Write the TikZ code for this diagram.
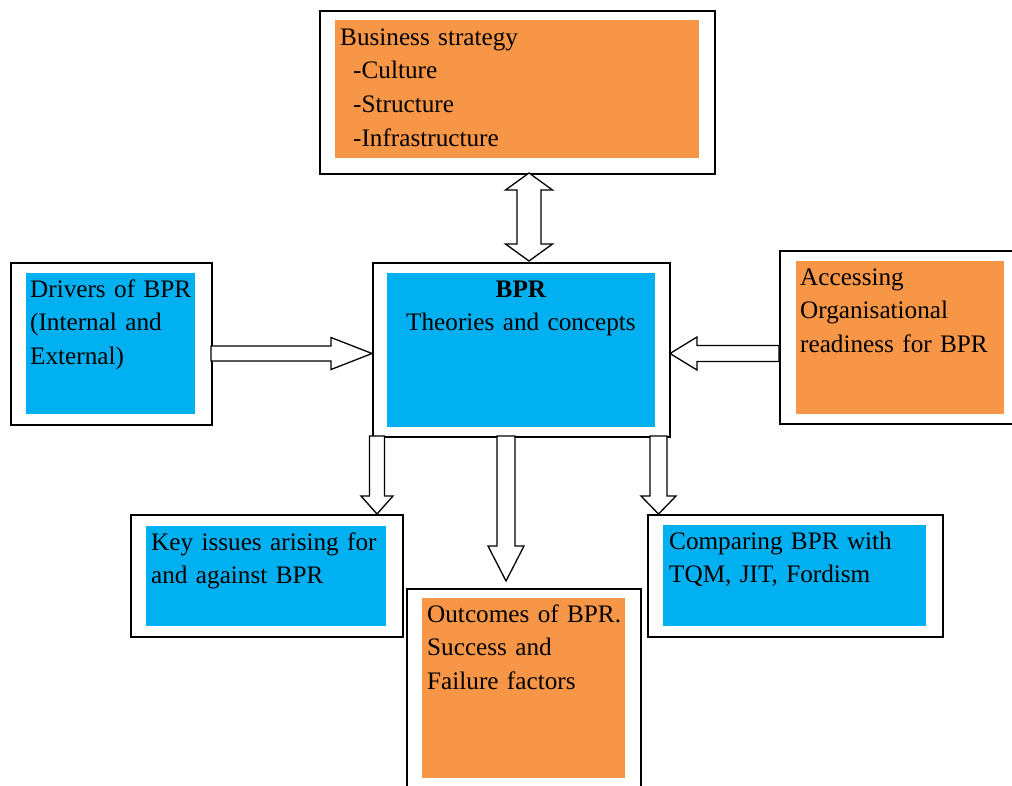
\documentclass[tikz,border=0pt]{standalone}
\usepackage{fontspec}
\setmainfont{Liberation Serif}
\usetikzlibrary{calc}
\definecolor{bpblue}{HTML}{00B0F0}
\definecolor{bporange}{HTML}{F79646}
\tikzset{
  frame/.style={draw=black, line width=2.3pt, fill=white, inner sep=0pt, anchor=north west},
  panel/.style={draw=none, inner sep=0pt, anchor=north west},
  txt/.style={anchor=base west, inner sep=0pt, align=left, text width=300pt},
  barrow/.style={draw=black, line width=1.3pt, fill=white, line join=miter},
  every node/.style={font=\fontsize{25.2pt}{33.7pt}\selectfont, text=black}
}
\newcommand\blockarrow[5]{%
  \coordinate (bahd) at ($(#2)!#5!(#1)$);
  \draw[barrow] ($(#1)!#3!90:(#2)$) -- ($(bahd)!#3!90:(#2)$) -- ($(bahd)!#4!90:(#2)$) -- (#2)
    -- ($(bahd)!#4!-90:(#2)$) -- ($(bahd)!#3!-90:(#2)$) -- ($(#1)!#3!-90:(#2)$) -- cycle;}
\newcommand\dblarrow[5]{%
  \coordinate (dah) at ($(#1)!#5!(#2)$);
  \coordinate (dak) at ($(#2)!#5!(#1)$);
  \draw[barrow] (#1) -- ($(dah)!#4!90:(#2)$) -- ($(dah)!#3!90:(#2)$) -- ($(dak)!#3!-90:(#1)$)
    -- ($(dak)!#4!-90:(#1)$) -- (#2) -- ($(dak)!#4!90:(#1)$) -- ($(dak)!#3!90:(#1)$)
    -- ($(dah)!#3!-90:(#2)$) -- ($(dah)!#4!-90:(#2)$) -- cycle;}
\begin{document}
\begin{tikzpicture}[x=1pt,y=-1pt]
\useasboundingbox (0,0) rectangle (1012,785);
\clip (0,0) rectangle (1012,785);
\fill[white] (0,0) rectangle (1012,785);

% Business strategy
\node[frame, minimum width=395pt, minimum height=163pt] (bsO) at (319,10) {};
\node[panel, fill=bporange, minimum width=364pt, minimum height=138pt] (bsI) at (335,20) {};
\node[txt] (bsT) at (340,45) {Business strategy\\\hspace*{13pt}-Culture\\\hspace*{13pt}-Structure\\\hspace*{13pt}-Infrastructure};

% BPR centre
\node[frame, minimum width=297pt, minimum height=174pt] (ctrO) at (372,262) {};
\node[panel, fill=bpblue, minimum width=268pt, minimum height=154pt] (ctrI) at (387,273) {};
\node[anchor=base, inner sep=0pt, align=center, text width=268pt] (ctrT) at (521,297) {\textbf{BPR}\\Theories and concepts};

% Drivers
\node[frame, minimum width=201pt, minimum height=162pt] (drvO) at (10,262) {};
\node[panel, fill=bpblue, minimum width=169pt, minimum height=141pt] (drvI) at (26,273) {};
\node[txt] (drvT) at (30,297) {Drivers of BPR\\(Internal and\\External)};

% Readiness
\node[frame, minimum width=246pt, minimum height=173pt] (rdyO) at (779,250) {};
\node[panel, fill=bporange, minimum width=208pt, minimum height=153pt] (rdyI) at (796,261) {};
\node[txt] (rdyT) at (800,285) {Accessing\\Organisational\\readiness for BPR};

% Key issues
\node[frame, minimum width=272pt, minimum height=122pt] (keyO) at (130,514) {};
\node[panel, fill=bpblue, minimum width=240pt, minimum height=100pt] (keyI) at (146,526) {};
\node[txt] (keyT) at (151,550) {Key issues arising for\\and against BPR};

% Outcomes
\node[frame, minimum width=234pt, minimum height=212pt] (outO) at (406,588) {};
\node[panel, fill=bporange, minimum width=203pt, minimum height=180pt] (outI) at (422,598) {};
\node[txt] (outT) at (427,622) {Outcomes of BPR.\\Success and\\Failure factors};

% Comparing
\node[frame, minimum width=295pt, minimum height=122pt] (cmpO) at (647,514) {};
\node[panel, fill=bpblue, minimum width=263pt, minimum height=101pt] (cmpI) at (663,525) {};
\node[txt] (cmpT) at (669,549) {Comparing BPR with\\TQM, JIT, Fordism};

% arrow end points on the box borders
\coordinate (dTop) at (529,173);
\coordinate (dBot) at (529,261);
\coordinate (aDs) at (211,353.5);
\coordinate (aDt) at (372,353.5);
\coordinate (aRs) at (779,353.5);
\coordinate (aRt) at (670,353.5);
\coordinate (aKs) at (377,436);
\coordinate (aKt) at (377,514);
\coordinate (aOs) at (506,436);
\coordinate (aOt) at (506,581);
\coordinate (aCs) at (658.5,436);
\coordinate (aCt) at (658.5,514);

\dblarrow{dTop}{dBot}{12pt}{23.5pt}{17pt}
\blockarrow{aDs}{aDt}{7.5pt}{16pt}{41pt}
\blockarrow{aRs}{aRt}{8pt}{16.5pt}{27pt}
\blockarrow{aKs}{aKt}{7.5pt}{16pt}{18pt}
\blockarrow{aOs}{aOt}{9pt}{18pt}{35pt}
\blockarrow{aCs}{aCt}{8.5pt}{17.5pt}{18pt}
\end{tikzpicture}
\end{document}
